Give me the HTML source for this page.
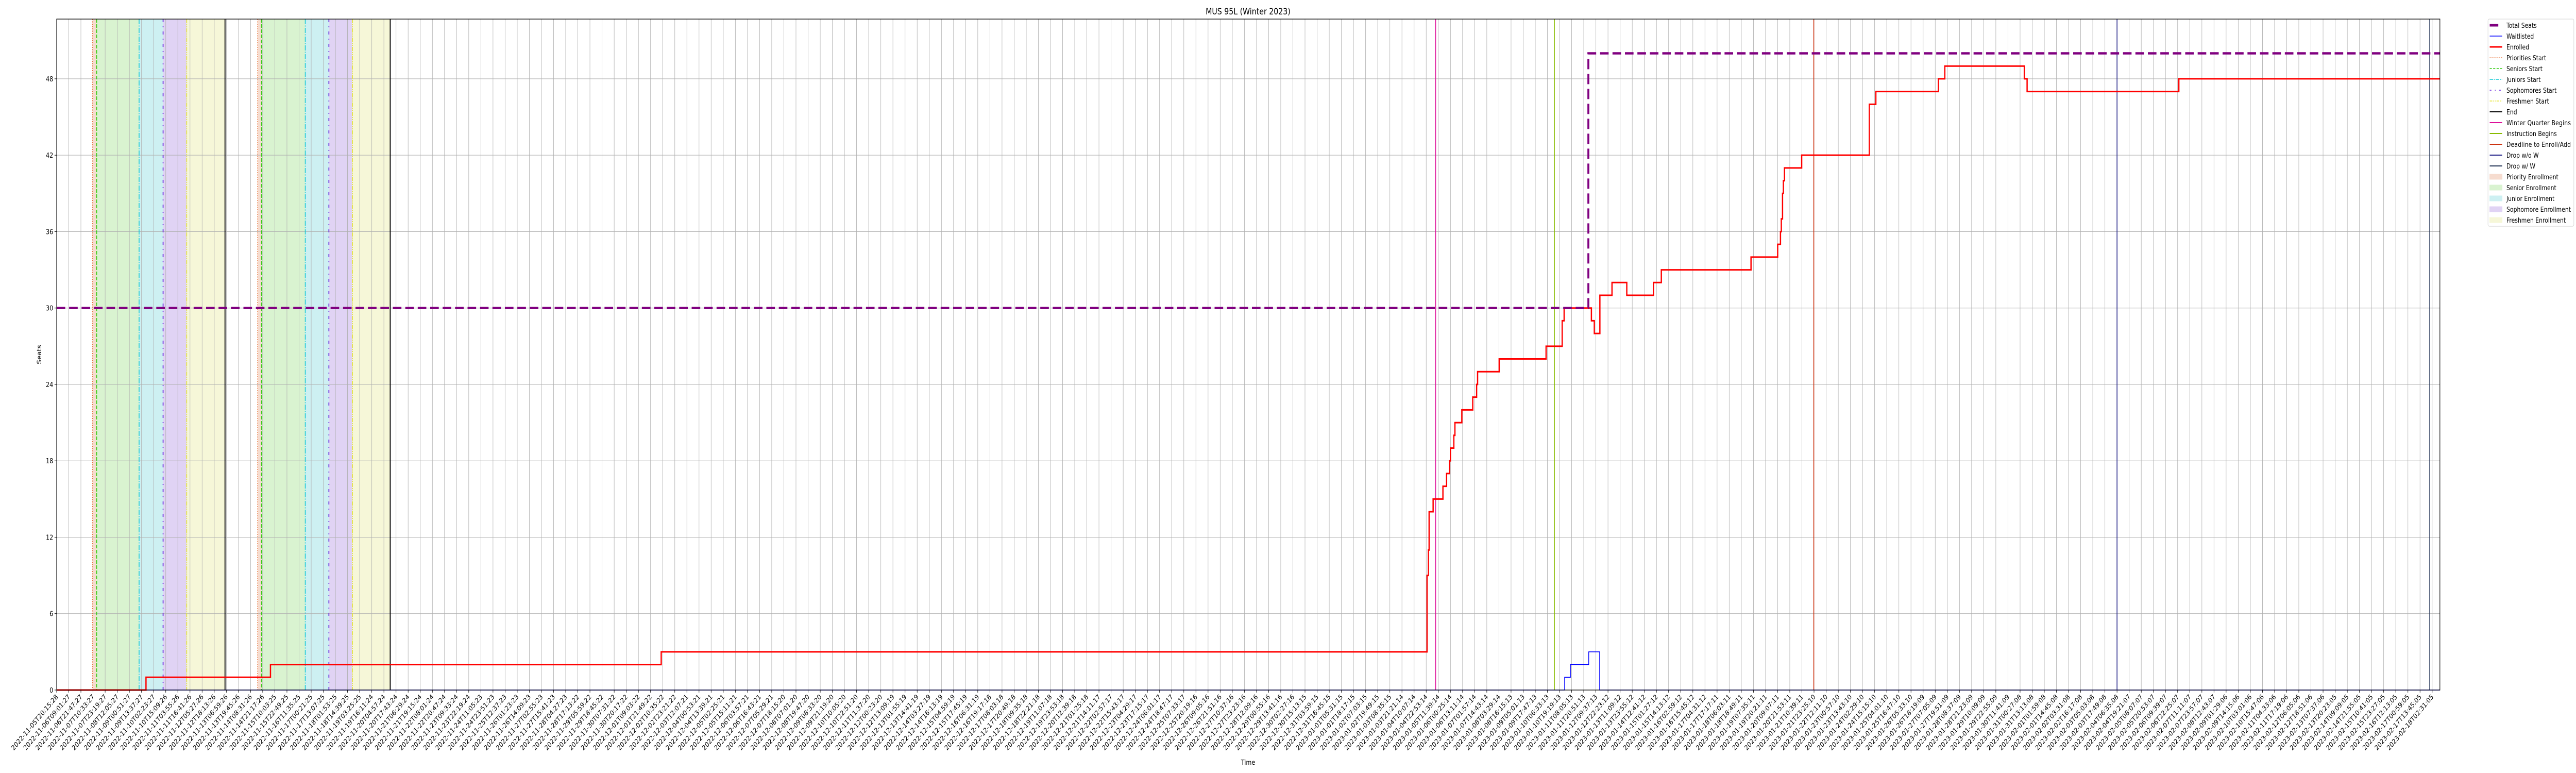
<!DOCTYPE html>
<html><head><meta charset="utf-8"><title>MUS 95L (Winter 2023)</title>
<style>
html,body{margin:0;padding:0;background:#fff;width:100%;height:100%;overflow:hidden;}
svg{display:block;position:fixed;left:0;top:0;width:100vw;height:100vh;font-family:"DejaVu Sans","Liberation Sans",sans-serif;overflow:hidden;}
</style></head>
<body>
<svg id="chart" xmlns="http://www.w3.org/2000/svg" viewBox="0 0 6000 1500" preserveAspectRatio="none">
<rect x="0" y="0" width="6000" height="1500" fill="#fff"/>
<text x="2907" y="28" font-size="17" text-anchor="middle">MUS 95L (Winter 2023)</text>
<text x="2907" y="1484" font-size="13.5" text-anchor="middle">Time</text>
<text x="0" y="0" font-size="13.5" text-anchor="middle" transform="translate(96,688) rotate(-90)">Seats</text>
<g id="shades"></g><g id="grid"></g><g id="vlines"></g><g id="series"></g><g id="axes"></g><g id="legend"></g>
</svg>
<script>
// ---- data ----
const tickCount = 197;
const tickStart = "2022-11-05T20:15:28";
const tickEnd = "2023-02-18T02:31:05";
const yTicks = [0, 6, 12, 18, 24, 30, 36, 42, 48];
const enrolledX = [0, 7.37, 17.64, 49.88, 113.07, 113.18, 113.24, 113.57, 114.38, 114.68, 114.92, 115.0, 115.28, 115.37, 115.94, 116.84, 117.16, 117.24, 119.02, 122.89, 124.22, 124.38, 126.63, 126.87, 127.33, 128.33, 129.55, 131.75, 132.4, 139.8, 142.0, 142.23, 142.3, 142.4, 142.47, 142.56, 143.98, 149.56, 150.1, 155.26, 155.79, 162.35, 162.58, 175.1];
const enrolledY = [0, 1, 2, 3, 9, 11, 14, 15, 16, 17, 18, 19, 20, 21, 22, 23, 24, 25, 26, 27, 29, 30, 29, 28, 31, 32, 31, 32, 33, 34, 35, 36, 37, 39, 40, 41, 42, 46, 47, 48, 49, 48, 47, 48];
const waitX = [0, 124.42, 124.9, 126.41, 127.31];
const waitY = [0, 1, 2, 3, 0];
const seatsX = [0, 126.38];
const seatsY = [30, 50];
const periodStarts = [2.96, 3.30, 6.80, 8.78, 10.73, 16.58, 16.90, 20.51, 22.46, 24.41];
const periodEnds = [13.89, 27.52];
const eventWinter = [113.78];
const eventInstruction = [123.58];
const eventDeadline = [144.98];
const eventDropNoW = [170.0];
const eventDropW = [195.8];

// ---- axes ----
const L = 132, R = 5683, T = 37, B = 1339;
const X0 = 0, X1 = 196.64, YMAX = (B - T) / 24.71;
function xs(v){ return L + (v - X0) / (X1 - X0) * (R - L); }
function ys(v){ return B - v / YMAX * (B - T); }
const NS = "http://www.w3.org/2000/svg";
function mk(tag, attrs, parent){ const e = document.createElementNS(NS, tag); for (const k in attrs) e.setAttribute(k, attrs[k]); parent.appendChild(e); return e; }
const G = id => document.getElementById(id);

// shaded enrollment periods
const shadeCols = ["#f6dccf", "#d9f3d0", "#cdf0f2", "#e0d3f4", "#f6f7d8"];
const shadeNames = ["priority-enrollment-shade", "senior-enrollment-shade", "junior-enrollment-shade", "sophomore-enrollment-shade", "freshmen-enrollment-shade"];
for (let p = 0; p < 2; p++) {
  for (let i = 0; i < 5; i++) {
    const a = periodStarts[p*5 + i];
    const b = i < 4 ? periodStarts[p*5 + i + 1] : periodEnds[p];
    const r = mk("rect", {x: xs(a), y: T, width: xs(b) - xs(a), height: B - T, fill: shadeCols[i]}, G("shades"));
    
    
  }
}
// grid
for (let k = 0; k < tickCount; k++) {
  const g = mk("line", {x1: xs(k), x2: xs(k), y1: T, y2: B, stroke: "#b0b0b0", "stroke-width": 1}, G("grid"));
  
  
}
yTicks.forEach(v => {
  const g = mk("line", {x1: L, x2: R, y1: ys(v), y2: ys(v), stroke: "#b0b0b0", "stroke-width": 1}, G("grid"));
  
  
});
// vertical event lines
const startStyles = [
  {c: "#e8733a", d: "2,2.5", w: 1.6, n: "priorities-start-line"},
  {c: "#33cc11", d: "7,3", w: 1.8, n: "seniors-start-line"},
  {c: "#11c8d4", d: "10,2.5,2,2.5", w: 1.8, n: "juniors-start-line"},
  {c: "#6622dd", d: "6,8,2,8", w: 2, n: "sophomores-start-line"},
  {c: "#e6e633", d: "8,2,2,2,2,2", w: 1.8, n: "freshmen-start-line"}
];
periodStarts.forEach((v, i) => {
  const s = startStyles[i % 5];
  const l = mk("line", {x1: xs(v), x2: xs(v), y1: T, y2: B, stroke: s.c, "stroke-width": s.w, "stroke-dasharray": s.d}, G("vlines"));
  
  
});
periodEnds.forEach(v => {
  const l = mk("line", {x1: xs(v), x2: xs(v), y1: T, y2: B, stroke: "#000", "stroke-width": 2.2}, G("vlines"));
  
  
});
[[eventWinter, "#dd1199", "winter-quarter-begins-line"], [eventInstruction, "#88bb00", "instruction-begins-line"], [eventDeadline, "#cc3311", "deadline-line"], [eventDropNoW, "#222288", "drop-without-w-line"], [eventDropW, "#223355", "drop-with-w-line"]].forEach(([arr, c, n]) => {
  arr.forEach(v => {
    const l = mk("line", {x1: xs(v), x2: xs(v), y1: T, y2: B, stroke: c, "stroke-width": 1.8}, G("vlines"));
    
    
  });
});
// step series
function stepPath(X, Y){
  let d = "M" + xs(X[0]) + "," + ys(Y[0]);
  for (let i = 1; i < X.length; i++) d += " H" + xs(X[i]) + " V" + ys(Y[i]);
  d += " H" + xs(X1);
  return d;
}
const wl = mk("path", {d: stepPath(waitX, waitY), fill: "none", stroke: "#0000ff", "stroke-width": 1.6}, G("series"));


const en = mk("path", {d: stepPath(enrolledX, enrolledY), fill: "none", stroke: "#ff0000", "stroke-width": 3}, G("series"));


const st = mk("path", {d: stepPath(seatsX, seatsY), fill: "none", stroke: "#800080", "stroke-width": 4.5, "stroke-dasharray": "20,9"}, G("series"));



// axes frame, ticks, labels
const fr = mk("rect", {x: L, y: T, width: R - L, height: B - T, fill: "none", stroke: "#000", "stroke-width": 1.3}, G("axes"));


yTicks.forEach(v => {
  const t = mk("line", {x1: L - 5, x2: L, y1: ys(v), y2: ys(v), stroke: "#000", "stroke-width": 1}, G("axes"));
  
  
  const tx = mk("text", {x: L - 8, y: ys(v) + 5, "font-size": 13.5, "text-anchor": "end"}, G("axes"));
  tx.textContent = v;
  
  
});
const t0 = Date.parse(tickStart + "Z"), t1 = Date.parse(tickEnd + "Z");
const tickLabels = [];
for (let k = 0; k < tickCount; k++) tickLabels.push(new Date(t0 + (t1 - t0) * k / (tickCount - 1)).toISOString().slice(0, 19));
tickLabels.forEach((lab, k) => {
  const x = xs(k);
  const t = mk("line", {x1: x, x2: x, y1: B, y2: B + 5, stroke: "#000", "stroke-width": 1}, G("axes"));
  
  
  const tx = mk("text", {x: 0, y: 0, "font-size": 13.5, "text-anchor": "end", transform: "translate(" + (x + 4) + "," + (B + 14) + ") rotate(-45)"}, G("axes"));
  tx.textContent = lab;
  
  
});

// legend
const lg = G("legend");
const box = mk("rect", {x: 5795, y: 37, width: 200, height: 402, rx: 3, fill: "#fff", stroke: "#d0d0d0", "stroke-width": 1}, lg);


const legendItems = [
  ["Total Seats", "line", "#800080", 5, "", "legend-total-seats"],
  ["Waitlisted", "line", "#0000ff", 1.5, "", "legend-waitlisted"],
  ["Enrolled", "line", "#ff0000", 3, "", "legend-enrolled"],
  ["Priorities Start", "line", "#e8733a", 1.5, "2,2.5", "legend-priorities-start"],
  ["Seniors Start", "line", "#33cc11", 1.5, "5,3", "legend-seniors-start"],
  ["Juniors Start", "line", "#11c8d4", 1.5, "8,2,2,2", "legend-juniors-start"],
  ["Sophomores Start", "line", "#6622dd", 1.5, "4,8,2,8", "legend-sophomores-start"],
  ["Freshmen Start", "line", "#e6e633", 1.5, "6,2,2,2,2,2", "legend-freshmen-start"],
  ["End", "line", "#000", 2, "", "legend-end"],
  ["Winter Quarter Begins", "line", "#dd1199", 2, "", "legend-winter-quarter"],
  ["Instruction Begins", "line", "#88bb00", 2, "", "legend-instruction-begins"],
  ["Deadline to Enroll/Add", "line", "#cc3311", 2, "", "legend-deadline"],
  ["Drop w/o W", "line", "#222288", 2, "", "legend-drop-without-w"],
  ["Drop w/ W", "line", "#223355", 2, "", "legend-drop-with-w"],
  ["Priority Enrollment", "rect", "#f6dccf", 0, "", "legend-priority-enrollment"],
  ["Senior Enrollment", "rect", "#d9f3d0", 0, "", "legend-senior-enrollment"],
  ["Junior Enrollment", "rect", "#cdf0f2", 0, "", "legend-junior-enrollment"],
  ["Sophomore Enrollment", "rect", "#e0d3f4", 0, "", "legend-sophomore-enrollment"],
  ["Freshmen Enrollment", "rect", "#f6f7d8", 0, "", "legend-freshmen-enrollment"]
];
legendItems.forEach((it, i) => {
  const y = 49 + i * 21;
  const g = mk("g", {}, lg);
  
  
  if (it[1] === "line") {
    const a = {x1: 5799, x2: 5828, y1: y, y2: y, stroke: it[2], "stroke-width": it[3]};
    if (it[4]) a["stroke-dasharray"] = it[4];
    if (i === 0) { a.x2 = 5819; }
    mk("line", a, g);
  } else {
    mk("rect", {x: 5799, y: y - 5, width: 29, height: 10, fill: it[2], stroke: it[2]}, g);
  }
  const t = mk("text", {x: 5838, y: y + 5, "font-size": 13, textLength: it[0].length > 19 ? 150 : null}, g);
  if (!(it[0].length > 19)) t.removeAttribute("textLength");
  t.textContent = it[0];
});
</script>
</body></html>
